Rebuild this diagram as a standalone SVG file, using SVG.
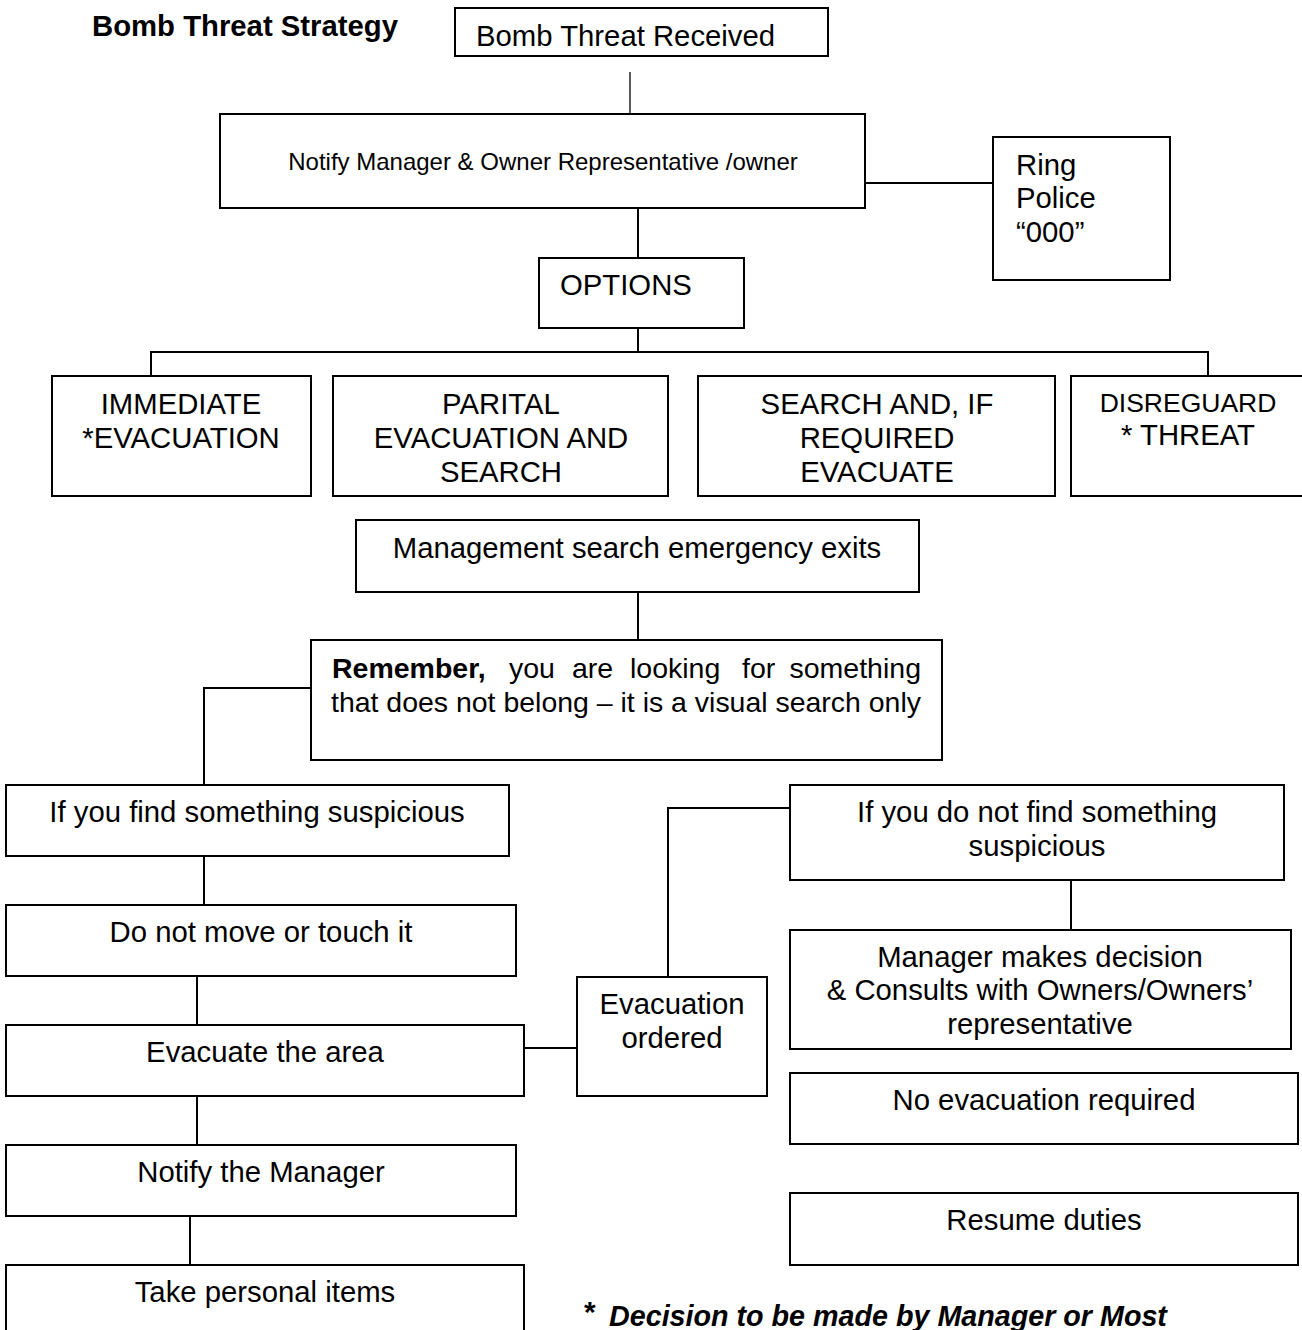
<svg xmlns="http://www.w3.org/2000/svg" width="1302" height="1330" viewBox="0 0 1302 1330">
<style>
rect.b{fill:#fff;stroke:#000;stroke-width:2}
text{font-family:"Liberation Sans",Arial,sans-serif;font-size:29.3px;fill:#000}
.c{text-anchor:middle}
.s{font-size:24px}
.r{font-size:28.5px}
#connectors line,#connectors polyline{stroke:#000;stroke-width:2;fill:none}
</style>
<rect width="1302" height="1330" fill="#fff"/>
<text x="92" y="36" font-weight="bold" style="font-size:29.3px">Bomb Threat Strategy</text>
<g id="connectors">
<line x1="630" y1="72" x2="630" y2="120" style="stroke-width:1.3"/>
<line x1="865" y1="183" x2="993" y2="183"/>
<line x1="638" y1="208" x2="638" y2="258"/>
<line x1="638" y1="328" x2="638" y2="352"/>
<polyline points="151,376 151,352 1208,352 1208,376"/>
<line x1="638" y1="592" x2="638" y2="640"/>
<polyline points="311,688 204,688 204,785"/>
<line x1="204" y1="856" x2="204" y2="905"/>
<line x1="197" y1="976" x2="197" y2="1025"/>
<line x1="197" y1="1096" x2="197" y2="1145"/>
<line x1="190" y1="1216" x2="190" y2="1265"/>
<line x1="524" y1="1048" x2="577" y2="1048"/>
<polyline points="668,977 668,808 790,808"/>
<line x1="1071" y1="880" x2="1071" y2="930"/>
</g>
<g id="n-received"><rect class="b" x="455" y="8" width="373" height="48"/><text x="476" y="46">Bomb Threat Received</text></g>
<g id="n-notify"><rect class="b" x="220" y="114" width="645" height="94"/><text class="c s" x="543" y="170">Notify Manager &amp; Owner Representative /owner</text></g>
<g id="n-police"><rect class="b" x="993" y="137" width="177" height="143"/><text x="1016" y="175">Ring</text><text x="1016" y="208">Police</text><text x="1016" y="242">“000”</text></g>
<g id="n-options"><rect class="b" x="539" y="258" width="205" height="70"/><text x="560" y="295">OPTIONS</text></g>
<g id="n-immediate"><rect class="b" x="52" y="376" width="259" height="120"/><text class="c" x="181" y="414">IMMEDIATE</text><text class="c" x="181" y="448">*EVACUATION</text></g>
<g id="n-partial"><rect class="b" x="333" y="376" width="335" height="120"/><text class="c" x="501" y="414">PARITAL</text><text class="c" x="501" y="448">EVACUATION AND</text><text class="c" x="501" y="482">SEARCH</text></g>
<g id="n-search"><rect class="b" x="698" y="376" width="357" height="120"/><text class="c" x="877" y="414">SEARCH AND, IF</text><text class="c" x="877" y="448">REQUIRED</text><text class="c" x="877" y="482">EVACUATE</text></g>
<g id="n-disregard"><rect class="b" x="1071" y="376" width="240" height="120"/><text class="c" x="1188" y="412" style="font-size:26.5px">DISREGUARD</text><text class="c" x="1188" y="445">* THREAT</text></g>
<g id="n-mgmt"><rect class="b" x="356" y="520" width="563" height="72"/><text class="c" x="637" y="558">Management search emergency exits</text></g>
<g id="n-remember"><rect class="b" x="311" y="640" width="631" height="120"/><text class="r" y="678"><tspan x="332" font-weight="bold">Remember,</tspan><tspan x="509">you</tspan><tspan x="572">are</tspan><tspan x="630">looking</tspan><tspan x="742">for</tspan></text><text class="r" x="921" y="678" text-anchor="end">something</text><text class="r" x="331" y="712" textLength="590" lengthAdjust="spacingAndGlyphs">that does not belong – it is a visual search only</text></g>
<g id="n-find"><rect class="b" x="6" y="785" width="503" height="71"/><text class="c" x="257" y="822">If you find something suspicious</text></g>
<g id="n-nomove"><rect class="b" x="6" y="905" width="510" height="71"/><text class="c" x="261" y="942">Do not move or touch it</text></g>
<g id="n-evacarea"><rect class="b" x="6" y="1025" width="518" height="71"/><text class="c" x="265" y="1062">Evacuate the area</text></g>
<g id="n-notifymgr"><rect class="b" x="6" y="1145" width="510" height="71"/><text class="c" x="261" y="1182">Notify the Manager</text></g>
<g id="n-items"><rect class="b" x="6" y="1265" width="518" height="80"/><text class="c" x="265" y="1302">Take personal items</text></g>
<g id="n-evacordered"><rect class="b" x="577" y="977" width="190" height="119"/><text class="c" x="672" y="1014">Evacuation</text><text class="c" x="672" y="1048">ordered</text></g>
<g id="n-notfind"><rect class="b" x="790" y="785" width="494" height="95"/><text class="c" x="1037" y="822">If you do not find something</text><text class="c" x="1037" y="856">suspicious</text></g>
<g id="n-decision"><rect class="b" x="790" y="930" width="501" height="119"/><text class="c" x="1040" y="967">Manager makes decision</text><text class="c" x="1040" y="1000">&amp; Consults with Owners/Owners’</text><text class="c" x="1040" y="1034">representative</text></g>
<g id="n-noevac"><rect class="b" x="790" y="1073" width="508" height="71"/><text class="c" x="1044" y="1110">No evacuation required</text></g>
<g id="n-resume"><rect class="b" x="790" y="1193" width="508" height="72"/><text class="c" x="1044" y="1230">Resume duties</text></g>
<text x="584" y="1322" font-weight="bold" style="font-size:30px">*</text>
<text x="609" y="1326" font-weight="bold" font-style="italic" style="font-size:28.7px">Decision to be made by Manager or Most</text>
</svg>
